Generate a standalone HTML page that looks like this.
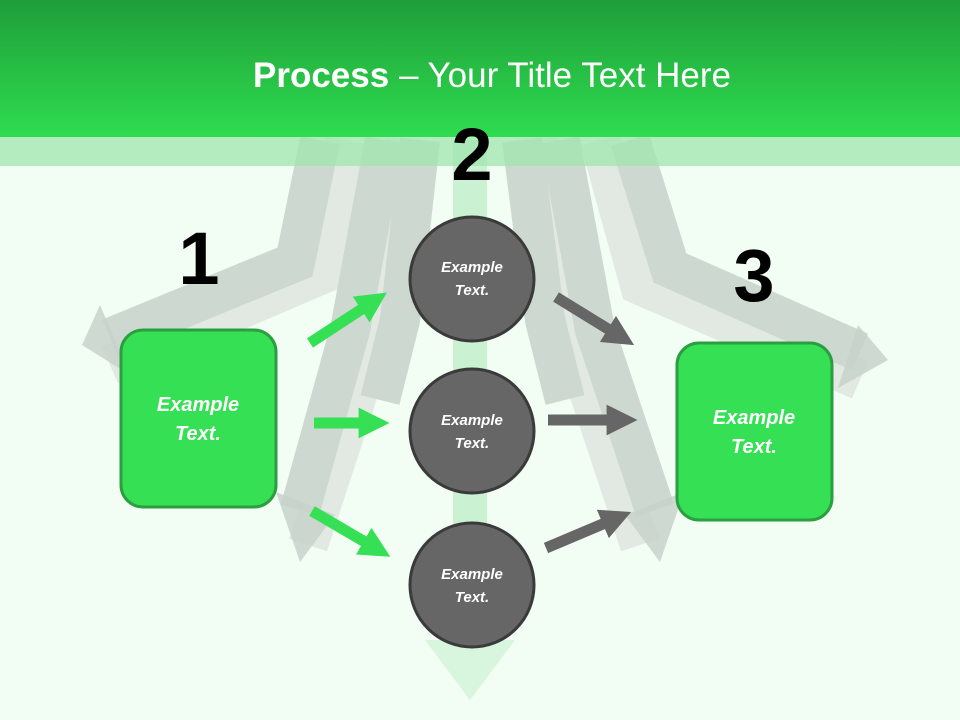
<!DOCTYPE html>
<html><head><meta charset="utf-8"><style>
html,body{margin:0;padding:0;width:960px;height:720px;overflow:hidden;background:#f2fdf4;font-family:"Liberation Sans",sans-serif}
</style></head><body>
<svg width="960" height="720" viewBox="0 0 960 720" xmlns="http://www.w3.org/2000/svg">
<defs>
<linearGradient id="hd" x1="0" y1="0" x2="0" y2="1"><stop offset="0" stop-color="#1f9e3a"/><stop offset="1" stop-color="#2fdc4f"/></linearGradient>
<marker id="ag" viewBox="0 0 10 10" refX="5" refY="5" markerWidth="2.8" markerHeight="3.2" orient="auto"><path d="M0,0 L10,5 L0,10z" fill="#36e055"/></marker>
<marker id="ay" viewBox="0 0 10 10" refX="5" refY="5" markerWidth="2.8" markerHeight="3.2" orient="auto"><path d="M0,0 L10,5 L0,10z" fill="#666"/></marker>
</defs>
<rect width="960" height="720" fill="#f2fdf4"/>
<g fill="none" stroke-linejoin="miter" opacity="0.85">
<polyline points="470,140 470,660" stroke="#c4f0cc" stroke-width="34"/>
<polygon points="425,640 515,640 470,700" fill="#d4f4da" stroke="none"/>
<g stroke="#dfe6e0" stroke-width="40">
<polyline points="345,140 320,275 110,365"/>
<polyline points="405,140 375,340 308,545"/>
<polyline points="538,140 572,340 640,545"/>
<polyline points="600,140 640,285 860,380"/>
</g>
<g stroke="#c7d2ca" stroke-width="40">
<polyline points="320,140 295,262 110,338"/>
<polyline points="385,140 350,330 300,510"/>
<polyline points="420,140 400,320 380,400"/>
<polyline points="522,140 545,320 565,400"/>
<polyline points="560,140 595,330 655,510"/>
<polyline points="630,140 670,268 860,352"/>
</g>
</g>
<g fill="#c7d2ca" opacity="0.85">
<polygon points="82,345 100,305 130,375"/>
<polygon points="276,492 335,515 300,562"/>
<polygon points="684,492 625,515 660,562"/>
<polygon points="888,360 858,325 838,388"/>
</g>
<rect x="0" y="0" width="960" height="137" fill="url(#hd)"/>
<rect x="0" y="137" width="960" height="29" fill="#9fe6ad" opacity="0.75"/>
<text x="492" y="87" text-anchor="middle" fill="#fff" font-size="35"><tspan font-weight="bold">Process</tspan> – Your Title Text Here</text>
<g font-weight="bold" font-size="74" fill="#000" text-anchor="middle">
<text x="199" y="284">1</text>
<text x="472" y="180">2</text>
<text x="754" y="301">3</text>
</g>
<g stroke-width="11" fill="none">
<line x1="310" y1="343" x2="374" y2="301" stroke="#36e055" marker-end="url(#ag)"/>
<line x1="314" y1="423" x2="374" y2="423" stroke="#36e055" marker-end="url(#ag)"/>
<line x1="312" y1="511" x2="377" y2="549" stroke="#36e055" marker-end="url(#ag)"/>
<line x1="556" y1="297" x2="621" y2="337" stroke="#666" marker-end="url(#ay)"/>
<line x1="548" y1="420" x2="622" y2="420" stroke="#666" marker-end="url(#ay)"/>
<line x1="546" y1="548" x2="617" y2="518" stroke="#666" marker-end="url(#ay)"/>
</g>
<rect x="121" y="330" width="155" height="177" rx="22" fill="#36e055" stroke="#2a9e40" stroke-width="3"/>
<rect x="677" y="343" width="155" height="177" rx="22" fill="#36e055" stroke="#2a9e40" stroke-width="3"/>
<g fill="#fff" font-style="italic" font-weight="bold" font-size="20" text-anchor="middle">
<text x="198" y="411">Example</text><text x="198" y="440">Text.</text>
<text x="754" y="424">Example</text><text x="754" y="453">Text.</text>
</g>
<g fill="#666" stroke="#3a3a3a" stroke-width="3">
<circle cx="472" cy="279" r="62"/>
<circle cx="472" cy="431" r="62"/>
<circle cx="472" cy="585" r="62"/>
</g>
<g fill="#fff" font-style="italic" font-weight="bold" font-size="15" text-anchor="middle">
<text x="472" y="272">Example</text><text x="472" y="295">Text.</text>
<text x="472" y="425">Example</text><text x="472" y="448">Text.</text>
<text x="472" y="579">Example</text><text x="472" y="602">Text.</text>
</g>
</svg>
</body></html>
